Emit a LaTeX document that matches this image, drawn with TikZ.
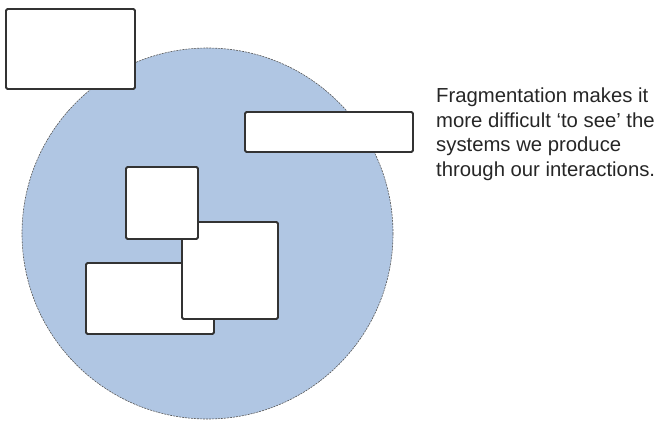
\documentclass[tikz,border=0pt]{standalone}
\usepackage{fontspec}
\setmainfont{Liberation Sans}
\definecolor{fieldblue}{HTML}{B0C6E3}
\begin{document}
\begin{tikzpicture}[x=1pt,y=-1pt,
  fragbox/.style={draw=black!80, line width=1.8pt, fill=white, rounded corners=1.5pt},
  field/.style={fill=fieldblue, draw=gray!70!black, dash pattern=on 2pt off 1pt, line width=0.6pt}]
  \useasboundingbox (0,0) rectangle (666,421);
  % the shared field
  \draw[field] (207.5,233.5) circle (185.5);
  % fragments
  \draw[fragbox] (6,9) rectangle (135,89);
  \draw[fragbox] (245,112) rectangle (413,152);
  \draw[fragbox] (86,263) rectangle (214,334);
  \draw[fragbox] (182,222) rectangle (278,319);
  \draw[fragbox] (126,167) rectangle (198,239);
  % caption
  \node[anchor=north west, align=left, inner sep=0pt, text=black!85,
        font=\fontsize{20.3}{24.4}\selectfont] (caption) at (436,88)
    {Fragmentation makes it\\more difficult ‘to see’ the\\systems we produce\\through our interactions.};
\end{tikzpicture}
\end{document}
